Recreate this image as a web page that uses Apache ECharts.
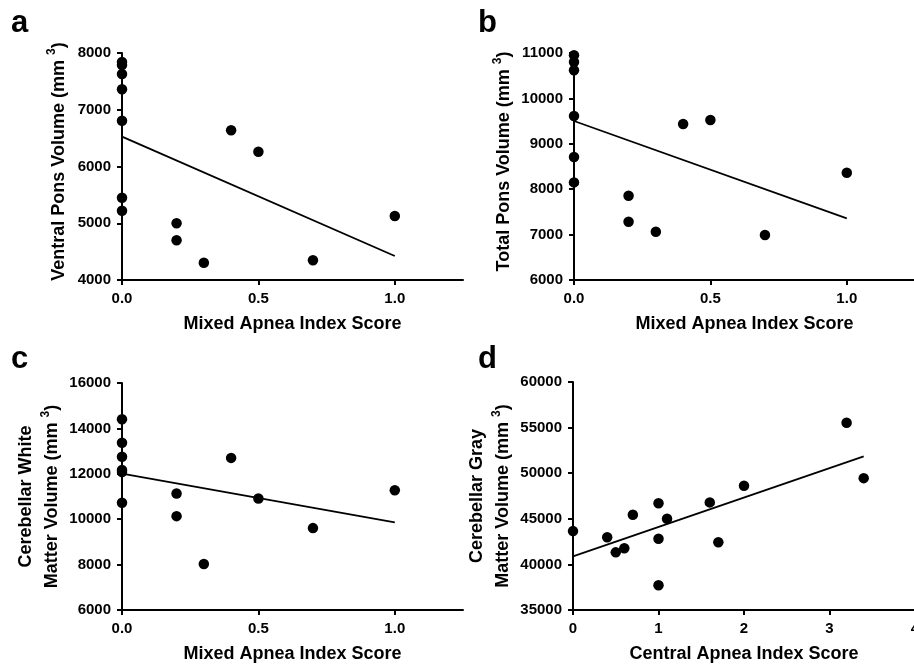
<!DOCTYPE html>
<html>
<head>
<meta charset="utf-8">
<script src="https://cdn.jsdelivr.net/npm/echarts@6/dist/echarts.min.js"></script>
<style>
html,body{margin:0;padding:0;background:#fff;}
#chart{width:914px;height:665px;}
</style>
</head>
<body>
<div id="chart"></div>
<script>
// ---- Data ----
const panelLabels = ['a', 'b', 'c', 'd'];
const xTitles = ['Mixed Apnea Index Score', 'Mixed Apnea Index Score', 'Mixed Apnea Index Score', 'Central Apnea Index Score'];
const yTitles = ['Ventral Pons Volume (mm {sup|3})', 'Total Pons Volume (mm {sup|3})', 'Cerebellar White\nMatter Volume (mm {sup|3})', 'Cerebellar Gray\nMatter Volume (mm {sup|3})'];

// Panel a: Ventral pons volume vs mixed apnea index
const aX = [0, 0, 0, 0, 0, 0, 0, 0.2, 0.2, 0.3, 0.4, 0.5, 0.7, 1.0];
const aY = [7840, 7790, 7630, 7360, 6805, 5450, 5220, 5000, 4700, 4305, 6638, 6261, 4347, 5128];
const aFitX = [0, 1.0];
const aFitY = [6526, 4423];

// Panel b: Total pons volume vs mixed apnea index
const bX = [0, 0, 0, 0, 0, 0, 0.2, 0.2, 0.3, 0.4, 0.5, 0.7, 1.0];
const bY = [10950, 10800, 10620, 9612, 8710, 8150, 7857, 7284, 7064, 9436, 9524, 6991, 8364];
const bFitX = [0, 1.0];
const bFitY = [9502, 7359];

// Panel c: Cerebellar white matter volume vs mixed apnea index
const cX = [0, 0, 0, 0, 0, 0, 0.2, 0.2, 0.3, 0.4, 0.5, 0.7, 1.0];
const cY = [14400, 13370, 12750, 12170, 12080, 10725, 11132, 10135, 8023, 12701, 10912, 9607, 11279];
const cFitX = [0, 1.0];
const cFitY = [12012, 9856];

// Panel d: Cerebellar gray matter volume vs central apnea index
const dX = [0, 0.4, 0.5, 0.6, 0.7, 1.0, 1.0, 1.0, 1.1, 1.6, 1.7, 2.0, 3.2, 3.4];
const dY = [43650, 42970, 41320, 41770, 45450, 46700, 42820, 37710, 45010, 46800, 42420, 48630, 55534, 49458];
const dFitX = [0, 3.4];
const dFitY = [40880, 51838];

// Axis ranges / ticks
const xMin = [0, 0, 0, 0], xMax = [1.25, 1.25, 1.25, 4], xStep = [0.5, 0.5, 0.5, 1];
const xTickVals = [[0, 0.5, 1.0], [0, 0.5, 1.0], [0, 0.5, 1.0], [0, 1, 2, 3, 4]];
const yMin = [4000, 6000, 6000, 35000], yMax = [8000, 11000, 16000, 60000], yStep = [1000, 1000, 2000, 5000];

// ---- Chart ----
const FONT = "'Liberation Sans', Arial, Helvetica, sans-serif";
const grids = [
  {left: 122, top: 53, width: 341, height: 227, outerBoundsMode: 'none'},
  {left: 574, top: 53, width: 341, height: 227, outerBoundsMode: 'none'},
  {left: 122, top: 383, width: 341, height: 227, outerBoundsMode: 'none'},
  {left: 573, top: 382, width: 342, height: 228, outerBoundsMode: 'none'}
];
const labelPos = [[11, 8], [478, 8], [11, 344], [478, 344]];
const yNameGap = [50, 50, 45, 44];
const yNamePad = [[0, 0, 0, 10], [0, 0, 0, 10], [0, 0, 0, 0], [0, 0, 0, 0]];
const pts = [[aX, aY], [bX, bY], [cX, cY], [dX, dY]];
const fits = [[aFitX, aFitY], [bFitX, bFitY], [cFitX, cFitY], [dFitX, dFitY]];
const xDigits = [1, 1, 1, 0];

const zip = (xs, ys) => xs.map((x, i) => [x, ys[i]]);
const supRich = {sup: {fontSize: 12, fontWeight: 'bold', fontFamily: FONT, color: '#000', verticalAlign: 'top', padding: [0, 0, 6, 0]}};

const option = {
  backgroundColor: '#fff',
  animation: false,
  title: panelLabels.map((t, i) => ({
    text: t, left: labelPos[i][0], top: labelPos[i][1], padding: 0,
    textStyle: {fontSize: 31, fontWeight: 'bold', fontFamily: FONT, color: '#000'}
  })),
  grid: grids,
  xAxis: grids.map((g, i) => ({
    type: 'value', gridIndex: i, min: xMin[i], max: xMax[i], interval: xStep[i],
    splitLine: {show: false},
    axisLine: {onZero: false, lineStyle: {color: '#000', width: 2}},
    axisTick: {length: 5, lineStyle: {color: '#000', width: 2}, customValues: xTickVals[i]},
    axisLabel: {customValues: xTickVals[i], color: '#000', fontSize: 15, fontWeight: 'bold', fontFamily: FONT, margin: 11,
      formatter: v => Number(v).toFixed(xDigits[i])},
    name: xTitles[i], nameLocation: 'middle', nameGap: 35,
    nameTextStyle: {color: '#000', fontSize: 18, fontWeight: 'bold', fontFamily: FONT}
  })),
  yAxis: grids.map((g, i) => ({
    type: 'value', gridIndex: i, min: yMin[i], max: yMax[i], interval: yStep[i],
    splitLine: {show: false},
    axisLine: {onZero: false, lineStyle: {color: '#000', width: 2}},
    axisTick: {length: 5, lineStyle: {color: '#000', width: 2}},
    axisLabel: {color: '#000', fontSize: 15, fontWeight: 'bold', fontFamily: FONT, margin: 11,
      formatter: v => String(v)},
    name: yTitles[i], nameLocation: 'middle', nameGap: yNameGap[i], nameRotate: 90,
    nameTextStyle: {color: '#000', fontSize: 18, fontWeight: 'bold', fontFamily: FONT, lineHeight: 26,
      padding: yNamePad[i], rich: supRich}
  })),
  series: [].concat(
    pts.map((p, i) => ({
      type: 'scatter', xAxisIndex: i, yAxisIndex: i, data: zip(p[0], p[1]),
      symbol: 'circle', symbolSize: 10.5, itemStyle: {color: '#000', opacity: 1}, clip: false, z: 3
    })),
    fits.map((f, i) => ({
      type: 'line', xAxisIndex: i, yAxisIndex: i, data: zip(f[0], f[1]),
      symbol: 'none', lineStyle: {color: '#000', width: 1.8}, z: 2
    }))
  )
};

const chart = echarts.init(document.getElementById('chart'), null, {renderer: 'canvas'});
chart.setOption(option);
</script>
</body>
</html>
